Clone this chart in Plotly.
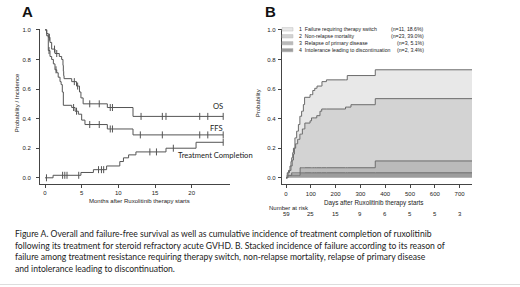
import numpy as np
import plotly.graph_objects as go

# ---------------- Panel A data (months after start) ----------------
os_t = [0, 0.23, 0.45, 0.68, 0.91, 1.36, 1.95, 2.27, 2.45, 2.5, 2.55, 2.6, 3.64, 4.3, 4.7, 4.9, 5.2, 8.5, 12.0]
os_s = [1.0, 0.975, 0.95, 0.915, 0.87, 0.84, 0.82, 0.80, 0.76, 0.72, 0.69, 0.67, 0.65, 0.62, 0.58, 0.54, 0.50, 0.475, 0.415]
os_cens = [0.6, 1.3, 1.6, 4.0, 4.45, 6.1, 7.4, 8.9, 9.2, 13.1, 16.0, 16.5, 21.1, 22.2, 24.3]

ffs_t = [0, 0.23, 0.45, 0.68, 0.91, 1.14, 1.36, 1.6, 1.8, 2.05, 2.2, 2.36, 2.5, 3.64, 4.1, 4.55, 5.0, 5.45, 8.5, 12.0]
ffs_s = [1.0, 0.96, 0.86, 0.82, 0.80, 0.77, 0.73, 0.71, 0.68, 0.65, 0.63, 0.58, 0.49, 0.475, 0.45, 0.43, 0.39, 0.36, 0.33, 0.29]
ffs_cens = [0.55, 1.5, 3.9, 4.3, 6.1, 7.4, 8.9, 9.2, 13.0, 16.0, 21.1, 22.2, 24.3]

tc_t = [0, 1.1, 4.9, 6.6, 8.4, 10.2, 10.7, 11.4, 12.4, 16.5, 20.6]
tc_c = [0, 0.017, 0.036, 0.055, 0.08, 0.11, 0.135, 0.155, 0.175, 0.2, 0.24]
tc_cens = [0.2, 2.4, 2.7, 3.0, 4.6, 7.3, 7.7, 8.0, 14.3, 15.2, 17.5, 24.3]

a_end = 24.3
a_xticks = [0, 5, 10, 15, 20]
prob_ticks = [0.0, 0.2, 0.4, 0.6, 0.8, 1.0]
curve_labels = ["OS", "FFS", "Treatment Completion"]

# ---------------- Panel B data (days after start), cumulative stacked ----------------
c4_t = [0, 5, 57]
c4_v = [0, 0.017, 0.034]
c34_t = [0, 5, 23, 57, 360]
c34_v = [0, 0.017, 0.034, 0.068, 0.114]
c234_t = [0, 8, 14, 20, 25, 30, 34, 39, 47, 56, 66, 76, 97, 103, 124, 137, 144, 240, 262, 360]
c234_v = [0, 0.034, 0.05, 0.08, 0.12, 0.16, 0.2, 0.23, 0.26, 0.295, 0.33, 0.37, 0.385, 0.405, 0.42, 0.45, 0.465, 0.478, 0.494, 0.535]
c1234_t = [0, 5, 10, 16, 20, 23, 27, 30, 36, 43, 50, 56, 63, 70, 75, 97, 108, 116, 125, 145, 163, 247, 360]
c1234_v = [0, 0.034, 0.05, 0.08, 0.11, 0.136, 0.17, 0.2, 0.27, 0.315, 0.36, 0.416, 0.45, 0.495, 0.544, 0.562, 0.59, 0.605, 0.62, 0.65, 0.662, 0.691, 0.73]
b_end = 750
b_xticks = [0, 100, 200, 300, 400, 500, 600, 700]

reasons = ["1  Failure requiring therapy switch", "2  Non-relapse mortality",
           "3  Relapse of primary disease", "4  Intolerance leading to discontinuation"]
counts = ["(n=11, 18.6%)", "(n=23, 39.0%)", "(n=3, 5.1%)", "(n=2, 3.4%)"]

risk_days = [0, 100, 200, 300, 400, 500, 600, 700]
risk_n = [59, 25, 15, 9, 6, 5, 5, 3]

caption = [
    "Figure A. Overall and failure-free survival as well as cumulative incidence of treatment completion of ruxolitinib",
    "following its treatment for steroid refractory acute GVHD. B. Stacked incidence of failure according to its reason of",
    "failure among treatment resistance requiring therapy switch, non-relapse mortality, relapse of primary disease",
    "and intolerance leading to discontinuation.",
]

# ---------------- helpers ----------------
W, H = 520, 287
def px(x):
    return x / W
def py(y):
    return 1 - y / H

def step_eval(t, v, q):
    t = np.asarray(t, float); v = np.asarray(v, float)
    idx = np.searchsorted(t, np.asarray(q, float), side="right") - 1
    return v[np.clip(idx, 0, len(v) - 1)]

LINE = "#555555"
AXC = "#444444"
SANS = "Liberation Sans"
CAPF = "Lato"
SMALL = 6.0

fig = go.Figure()

# Panel A curves
for t, s, cens in [(os_t, os_s, os_cens), (ffs_t, ffs_s, ffs_cens), (tc_t, tc_c, tc_cens)]:
    xs = list(t) + [a_end]
    ys = list(s) + [s[-1]]
    fig.add_trace(go.Scatter(x=xs, y=ys, mode="lines", line=dict(color=LINE, width=1, shape="hv"),
                             xaxis="x", yaxis="y", showlegend=False, hoverinfo="skip"))
    fig.add_trace(go.Scatter(x=cens, y=step_eval(t, s, cens), mode="markers",
                             marker=dict(symbol="line-ns", size=5, line=dict(color=LINE, width=1)),
                             xaxis="x", yaxis="y", showlegend=False, hoverinfo="skip"))

# Panel B stacked areas
grid = sorted(set(c4_t) | set(c34_t) | set(c234_t) | set(c1234_t) | {b_end})
band_cols = ["#e8e8e8", "#d3d3d3", "#bababa", "#9c9c9c"]  # bands 1..4
stack = [(c4_t, c4_v, band_cols[3]), (c34_t, c34_v, band_cols[2]),
         (c234_t, c234_v, band_cols[1]), (c1234_t, c1234_v, band_cols[0])]
for i, (t, v, col) in enumerate(stack):
    fig.add_trace(go.Scatter(x=grid, y=step_eval(t, v, grid), mode="lines",
                             line=dict(color="#6a6a6a", width=1, shape="hv"),
                             fill="tozeroy" if i == 0 else "tonexty", fillcolor=col,
                             xaxis="x2", yaxis="y2", showlegend=False, hoverinfo="skip"))

ydom = [py(183), py(27)]
yr = [-0.04, 1.007]
common_ax = dict(showline=True, linecolor=AXC, linewidth=1, ticks="outside", ticklen=3,
                 tickcolor=AXC, tickwidth=1, showgrid=False, zeroline=False,
                 tickfont=dict(family=SANS, size=SMALL, color="#222"))
fig.update_layout(
    width=W, height=H, margin=dict(l=0, r=0, t=0, b=0),
    paper_bgcolor="white", plot_bgcolor="white",
    xaxis=dict(domain=[px(40), px(230)], range=[(40 - 45) / 7.333, (230 - 45) / 7.333],
               tickvals=a_xticks, anchor="y", ticklabelstandoff=0, **common_ax),
    yaxis=dict(domain=ydom, range=yr, tickvals=prob_ticks, tickformat=".1f", anchor="x",
               ticklabelstandoff=4, **common_ax),
    xaxis2=dict(domain=[px(281.7), px(472)], range=[(281.7 - 286) / 0.248, b_end],
                tickvals=b_xticks, anchor="y2", ticklabelstandoff=1, **common_ax),
    yaxis2=dict(domain=ydom, range=yr, tickvals=prob_ticks, tickformat=".1f", anchor="x2",
                ticklabelstandoff=1, **common_ax),
)

ann = []
def A(x, y, text, size, xanchor="center", yanchor="middle", family=SANS, color="#222",
      xref="paper", yref="paper", angle=0, bold=False):
    if bold:
        text = "<b>" + text + "</b>"
    ann.append(dict(x=x, y=y, xref=xref, yref=yref, text=text, showarrow=False,
                    xanchor=xanchor, yanchor=yanchor, textangle=angle,
                    font=dict(family=family, size=size, color=color)))

# panel letters
A(px(27), py(10), "A", 15, bold=True, color="#111")
A(px(270), py(10), "B", 15, bold=True, color="#111")
# axis titles
A(px(139), py(200), "Months after Ruxolitinib therapy starts", SMALL)
A(px(17), py(102), "Probability / Incidence", SMALL, angle=-90)
A(px(373), py(202), "Days after Ruxolitinib therapy starts", 6.3)
A(px(258), py(102), "Probability", SMALL, angle=-90)
# curve labels
A(24.5, 0.485, curve_labels[0], 7.6, xanchor="right", family=CAPF, xref="x", yref="y")
A(24.5, 0.335, curve_labels[1], 7.6, xanchor="right", family=CAPF, xref="x", yref="y")
A(17.8, 0.155, curve_labels[2], 7.6, xanchor="left", family=CAPF, xref="x", yref="y")
# legend B
shapes = []
leg_rows = [27.5, 34.5, 41.5, 48.5]
for i, (r, c) in enumerate(zip(reasons, counts)):
    yy = leg_rows[i]
    shapes.append(dict(type="rect", xref="paper", yref="paper", x0=px(282), x1=px(293),
                       y0=py(yy + 1.7), y1=py(yy - 1.7), fillcolor=band_cols[i],
                       line=dict(color="#bdbdbd", width=0.5)))
    A(px(296.5), py(yy), r, 5.2, xanchor="left")
    A(px(425.5), py(yy), c, 5.2, xanchor="right")
# number at risk
A(px(288.5), py(207.5), "Number at risk", SMALL)
for d, n in zip(risk_days, risk_n):
    A(d, py(213.5), str(n), SMALL, xref="x2")
# caption
cap_y = [233.5, 245.3, 257, 268.6]
for line, yy in zip(caption, cap_y):
    A(px(13), py(yy), line, 8.6, xanchor="left", family=CAPF, color="#222")
shapes.append(dict(type="line", xref="paper", yref="paper", x0=0, x1=1, y0=py(284.5), y1=py(284.5),
                   line=dict(color="#dddddd", width=1)))

fig.update_layout(annotations=ann, shapes=shapes)
fig.write_html("out.html", config={"displayModeBar": False},
               post_script="document.body.style.margin='0';document.body.style.padding='0';document.body.style.overflow='hidden';")
